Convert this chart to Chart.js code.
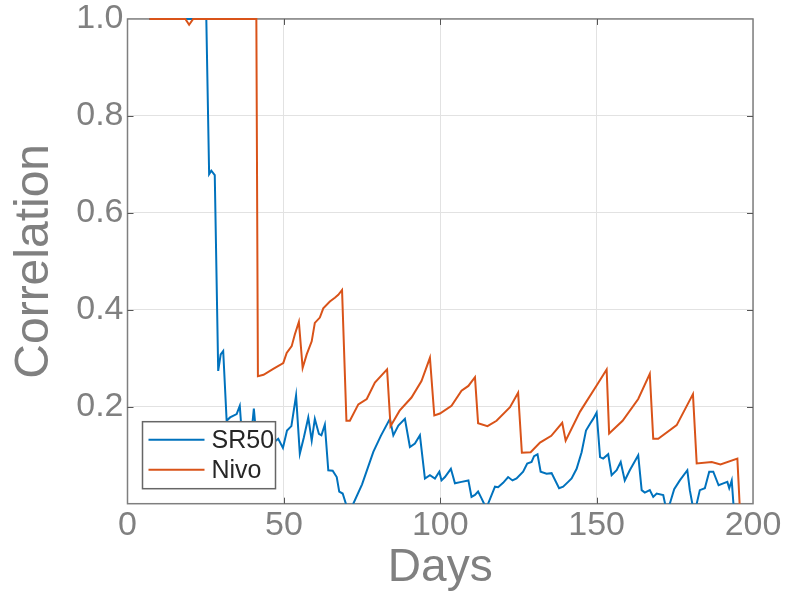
<!DOCTYPE html>
<html>
<head>
<meta charset="utf-8">
<script src="https://cdn.jsdelivr.net/npm/chart.js@4/dist/chart.umd.min.js"></script>
<style>
  html, body { margin: 0; padding: 0; background: #fff; }
  #wrap { width: 803px; height: 591px; }
</style>
</head>
<body>
<div id="wrap"><canvas id="corrChart"></canvas></div>
<script>
// --- DATA ---
const seriesNames = ['SR50', 'Nivo'];
const xTicks = [0, 50, 100, 150, 200];
const yTicks = [0.2, 0.4, 0.6, 0.8, 1.0];

const sr50Days = [7, 25.2, 26.1, 26.8, 27.9, 29, 29.8, 30.6, 31.7, 32.8, 34.9, 35.9, 36.6, 38, 39.4, 40.4, 41.3, 44, 46.5, 48.2,
    49.7, 51, 52.4, 53.9, 55.1, 56.4, 57.8, 58.9, 59.9, 61.2, 62, 63.1, 64.2, 65.6, 66.9, 67.7, 68.8, 70.8, 72.2, 75,
    78.6, 81, 83.9, 85, 86.6, 88.7, 90.3, 91.9, 93.5, 95.1, 96.7, 98.3, 99.7, 100.4, 101.5, 103.4, 104.7, 106.8, 109, 110,
    111.1, 112.1, 113.2, 114, 114.7, 115.3, 117.5, 118.5, 120.1, 121.7, 123.1, 124.4, 126.5, 127.8, 129.2, 130, 131.1, 132.1, 134, 135.6,
    138, 139.3, 140.9, 142, 143.6, 145.2, 146.6, 147.9, 148.9, 150, 151.1, 152.1, 153.7, 154.8, 156.4, 157.7, 159, 160.6, 163.3, 164.4,
    165.4, 167, 168.1, 169.2, 171.3, 172.2, 173.4, 174.8, 176.6, 179, 179.8, 180.6, 181.3, 182, 183, 184.6, 186, 187.3, 189, 190.5,
    191.8, 192.4, 193.2, 194.3];
const sr50Vals = [1.0, 1.0, 0.68, 0.687, 0.678, 0.274, 0.308, 0.315, 0.171, 0.178, 0.185, 0.202, 0.14, 0.15, 0.13, 0.196, 0.13, 0.12, 0.125, 0.134,
    0.115, 0.151, 0.16, 0.223, 0.103, 0.137, 0.178, 0.13, 0.175, 0.144, 0.141, 0.163, 0.069, 0.068, 0.055, 0.025, 0.021, -0.02, 0.0, 0.04,
    0.107, 0.14, 0.175, 0.141, 0.161, 0.175, 0.117, 0.124, 0.141, 0.052, 0.059, 0.052, 0.066, 0.048, 0.055, 0.072, 0.042, 0.045, 0.048, 0.014,
    0.018, 0.025, 0.011, 0.0, -0.015, 0.0, 0.035, 0.034, 0.043, 0.055, 0.048, 0.052, 0.066, 0.083, 0.086, 0.098, 0.102, 0.066, 0.062, 0.063,
    0.032, 0.035, 0.045, 0.052, 0.072, 0.106, 0.151, 0.165, 0.175, 0.188, 0.096, 0.093, 0.102, 0.059, 0.069, 0.086, 0.048, 0.069, 0.1, 0.028,
    0.023, 0.028, 0.014, 0.021, 0.018, -0.01, 0.0, 0.03, 0.048, 0.069, 0.028, 0.0, -0.01, 0.0, 0.028, 0.032, 0.066, 0.066, 0.038, 0.042,
    0.045, 0.032, 0.048, -0.05];

const nivoDays = [7, 18.5, 19.7, 21, 41.2, 41.7, 43.5, 46.6, 49.8, 50.9, 52.5, 53.5, 54.8, 56, 57.3, 58.9, 59.9, 61.5, 62.6, 64.7,
    66.3, 67.4, 68.6, 70, 71.1, 73.8, 76.5, 79.1, 83, 84.1, 87, 90.8, 94, 96.7, 98.1, 99.9, 103.6, 106.8, 109, 111.1,
    112.1, 115.1, 118, 122.3, 124.9, 126.1, 128.9, 131.9, 135.5, 139, 140.1, 144.7, 150.1, 153.2, 154, 158.3, 163.3, 167, 168.1, 169.7,
    175.6, 180.8, 182, 186.8, 189.6, 195, 196.1];
const nivoVals = [1.0, 1.0, 0.988, 1.0, 1.0, 0.263, 0.266, 0.278, 0.29, 0.311, 0.325, 0.349, 0.375, 0.28, 0.308, 0.335, 0.373, 0.384, 0.403, 0.417,
    0.425, 0.431, 0.441, 0.171, 0.171, 0.205, 0.216, 0.25, 0.277, 0.16, 0.192, 0.219, 0.253, 0.301, 0.182, 0.186, 0.202, 0.233, 0.243, 0.261,
    0.166, 0.16, 0.171, 0.199, 0.229, 0.105, 0.106, 0.126, 0.14, 0.167, 0.13, 0.19, 0.245, 0.277, 0.145, 0.171, 0.216, 0.268, 0.134, 0.134,
    0.162, 0.226, 0.083, 0.086, 0.081, 0.093, -0.05];

const toPoints = (days, vals) => days.map((d, i) => ({ x: d, y: vals[i] }));

const FONT = "'Liberation Sans', Arial, Helvetica, sans-serif";
const TEXT_GRAY = '#808080';
const AXIS_GRAY = '#7f7f7f';

// box around the axes + inward tick marks (MATLAB look)
const boxPlugin = {
    id: 'axesBox',
    beforeDatasetsDraw(chart) {
        const { ctx, chartArea: a, scales } = chart;
        ctx.save();
        ctx.strokeStyle = AXIS_GRAY;
        ctx.lineWidth = 1.5;
        ctx.strokeRect(a.left, a.top, a.right - a.left, a.bottom - a.top);
        ctx.strokeStyle = '#555';
        ctx.lineWidth = 1;
        const tl = 6;
        xTicks.slice(1, -1).forEach(v => {
            const px = Math.round(scales.x.getPixelForValue(v)) + 0.5;
            ctx.beginPath();
            ctx.moveTo(px, a.bottom); ctx.lineTo(px, a.bottom - tl);
            ctx.moveTo(px, a.top); ctx.lineTo(px, a.top + tl);
            ctx.stroke();
        });
        yTicks.slice(0, -1).forEach(v => {
            const py = Math.round(scales.y.getPixelForValue(v)) + 0.5;
            ctx.beginPath();
            ctx.moveTo(a.left, py); ctx.lineTo(a.left + tl, py);
            ctx.moveTo(a.right, py); ctx.lineTo(a.right - tl, py);
            ctx.stroke();
        });
        ctx.restore();
    }
};

// legend box in the lower-left corner of the plot
const legendPlugin = {
    id: 'insideLegend',
    afterDatasetsDraw(chart) {
        const { ctx, chartArea: a } = chart;
        const x0 = a.left + 15, y0 = a.bottom - 82, w = 133, h = 67;
        ctx.save();
        ctx.fillStyle = '#fff';
        ctx.fillRect(x0, y0, w, h);
        ctx.strokeStyle = '#666';
        ctx.lineWidth = 1.5;
        ctx.strokeRect(x0, y0, w, h);
        ctx.font = '25px ' + FONT;
        ctx.textBaseline = 'middle';
        chart.data.datasets.forEach((ds, i) => {
            const y = y0 + 18 + i * 30;
            ctx.strokeStyle = ds.borderColor;
            ctx.lineWidth = 2;
            ctx.beginPath();
            ctx.moveTo(x0 + 6, y); ctx.lineTo(x0 + 62, y);
            ctx.stroke();
            ctx.fillStyle = '#262626';
            ctx.fillText(ds.label, x0 + 69, y + 1);
        });
        ctx.restore();
    }
};

new Chart(document.getElementById('corrChart').getContext('2d'), {
    type: 'line',
    data: {
        datasets: [
            {
                label: seriesNames[0],
                data: toPoints(sr50Days, sr50Vals),
                borderColor: '#0072BD',
                borderWidth: 2,
                pointRadius: 0,
                tension: 0,
                order: 1,
                clip: { left: 0, right: 0, top: 2, bottom: 0 }
            },
            {
                label: seriesNames[1],
                data: toPoints(nivoDays, nivoVals),
                borderColor: '#D95319',
                borderWidth: 2,
                pointRadius: 0,
                tension: 0,
                order: 0,
                clip: { left: 0, right: 0, top: 2, bottom: 0 }
            }
        ]
    },
    options: {
        responsive: true,
        maintainAspectRatio: false,
        animation: false,
        layout: { padding: { top: 15, right: 50, left: 0, bottom: 0 } },
        plugins: { legend: { display: false }, tooltip: { enabled: false } },
        scales: {
            x: {
                type: 'linear',
                min: 0,
                max: 200,
                afterBuildTicks: s => { s.ticks = xTicks.map(v => ({ value: v })); },
                ticks: { color: TEXT_GRAY, padding: 2, maxRotation: 0, font: { family: FONT, size: 34 } },
                grid: { color: '#e2e2e2', drawTicks: false },
                border: { display: false },
                title: { display: true, text: 'Days', color: TEXT_GRAY, padding: 0, font: { family: FONT, size: 46, lineHeight: 1 } },
                afterFit: s => { s.height = 87.3; }
            },
            y: {
                min: 0,
                max: 1,
                afterBuildTicks: s => { s.ticks = [0].concat(yTicks).map(v => ({ value: v })); },
                ticks: {
                    color: TEXT_GRAY,
                    padding: 4,
                    font: { family: FONT, size: 34, lineHeight: 0.88 },
                    callback: v => v === 0 ? '' : v.toFixed(1)
                },
                grid: { color: '#e2e2e2', drawTicks: false },
                border: { display: false },
                title: { display: true, text: 'Correlation', color: TEXT_GRAY, padding: { top: 11, bottom: 0 }, font: { family: FONT, size: 48, lineHeight: 1 } },
                afterFit: s => { s.width = 127.5; }
            }
        }
    },
    plugins: [boxPlugin, legendPlugin]
});
</script>
</body>
</html>
